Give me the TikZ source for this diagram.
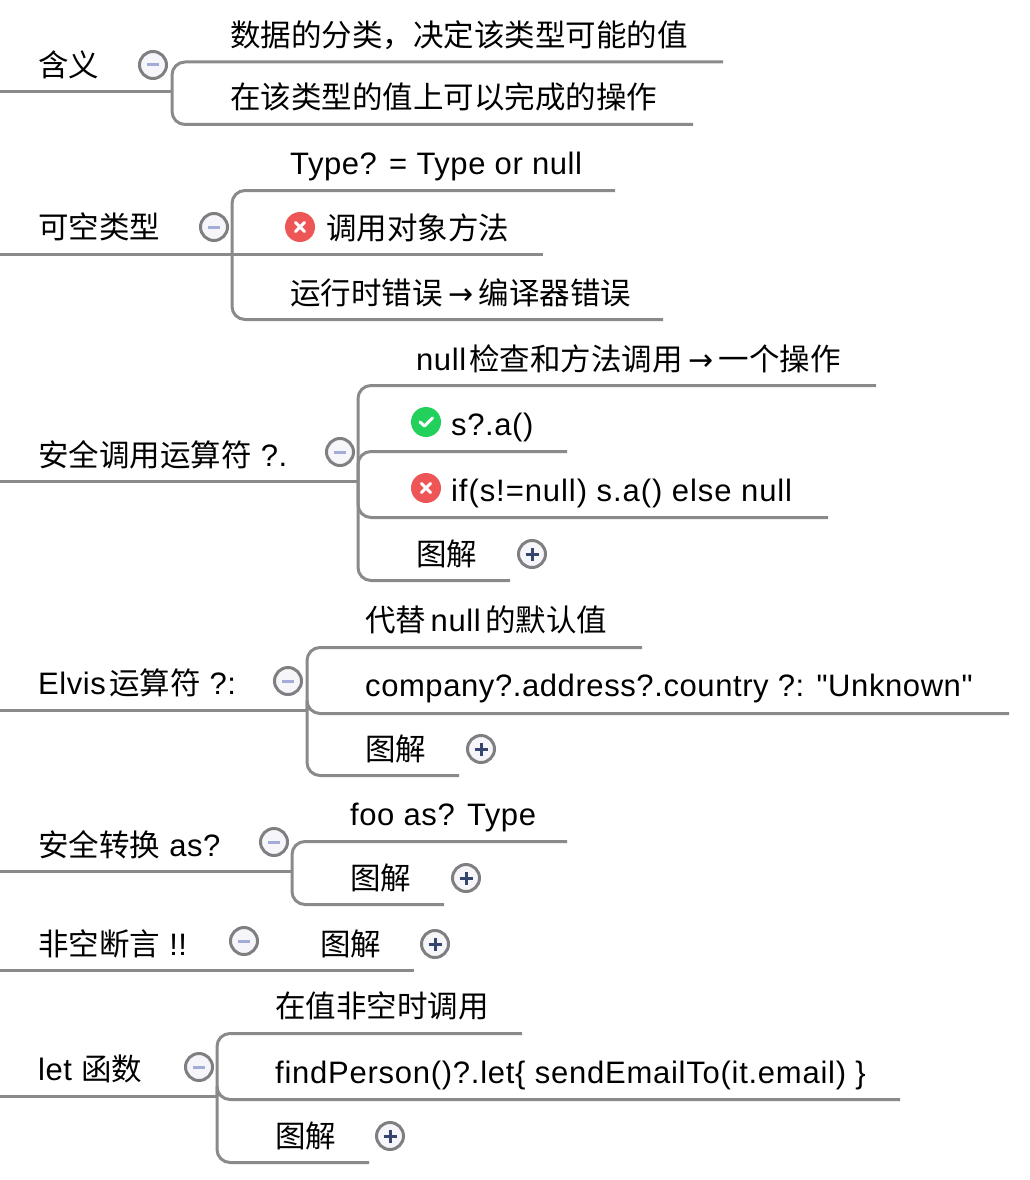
\documentclass[tikz,border=0pt]{standalone}
\usepackage{fontspec}
\setmainfont[LetterSpace=1.9,Ligatures=NoCommon]{Liberation Sans}
\newfontfamily\plainlatin[LetterSpace=1.9]{Liberation Sans}
\newfontfamily\cjk{Noto Sans CJK SC}
\newfontfamily\arrowfont{DejaVu Sans}
\newcommand{\zh}[1]{{\cjk\addfontfeature{LetterSpace=0} #1}}
\newcommand{\toarrow}{\makebox[36pt]{\fontsize{30}{30}\selectfont\arrowfont →}}
\definecolor{linegray}{HTML}{8A8A8A}
\definecolor{btnring}{HTML}{7F7F82}
\definecolor{btnfill}{HTML}{F6F6FA}
\definecolor{minusc}{HTML}{A3ACD6}
\definecolor{plusc}{HTML}{34456E}
\definecolor{okc}{HTML}{22D05C}
\definecolor{errc}{HTML}{EE5556}
\tikzset{
  lbl/.style={anchor=base west,inner sep=0pt,font=\fontsize{31}{36}\selectfont},
  lblz/.style={anchor=base west,inner sep=0pt,font=\fontsize{30.5}{36}\selectfont},
  branch/.style={draw=linegray,line width=3pt,rounded corners=13pt},
  btn/.style={circle,draw=btnring,line width=3pt,fill=btnfill,minimum size=27pt,inner sep=0pt},
  badge/.style={circle,minimum size=30pt,inner sep=0pt},
  minusbar/.style={draw=minusc,line width=3pt},
  plusbar/.style={draw=plusc,line width=3pt},
  whitemark/.style={draw=white,line width=3pt,line cap=round,line join=round}
}
\newcommand{\minusbtn}[3]{%
  \node[btn] (#1) at (#2,#3) {};
  \draw[minusbar] ([xshift=-6pt]#1.center) -- ([xshift=6pt]#1.center);}
\newcommand{\plusbtn}[3]{%
  \node[btn] (#1) at (#2,#3) {};
  \draw[plusbar] ([xshift=-6.5pt]#1.center) -- ([xshift=6.5pt]#1.center);
  \draw[plusbar] ([yshift=-6.5pt]#1.center) -- ([yshift=6.5pt]#1.center);}
\newcommand{\errbadge}[3]{%
  \node[badge,fill=errc] (#1) at (#2,#3) {};
  \draw[whitemark] ([shift={(-4.5pt,-4.5pt)}]#1.center) -- ([shift={(4.5pt,4.5pt)}]#1.center);
  \draw[whitemark] ([shift={(-4.5pt,4.5pt)}]#1.center) -- ([shift={(4.5pt,-4.5pt)}]#1.center);}
\newcommand{\okbadge}[3]{%
  \node[badge,fill=okc] (#1) at (#2,#3) {};
  \draw[whitemark] ([shift={(-6pt,0pt)}]#1.center) -- ([shift={(-1.5pt,-4pt)}]#1.center) -- ([shift={(6.5pt,4pt)}]#1.center);}
\begin{document}
\begin{tikzpicture}[x=1pt,y=-1pt]
\useasboundingbox (0,0) rectangle (1030,1180);
% ---- group 1
\coordinate (a0) at (0,91.5); \coordinate (a) at (172,91.5);
\coordinate (a1) at (723,62); \coordinate (a2) at (693,124.5);
\draw[branch] (a0) -- (a);
\draw[branch] (a1) -| (a) |- (a2);
\node[lblz] (ta) at (38,77) {\zh{含义}};
\node[lblz] (ta1) at (230,47) {\zh{数据的分类，决定该类型可能的值}};
\node[lblz] (ta2) at (230,109) {\zh{在该类型的值上可以完成的操作}};
\minusbtn{ba}{153}{65}
% ---- group 2
\coordinate (b0) at (0,254); \coordinate (b) at (232,254);
\coordinate (b1) at (615,190.5); \coordinate (b2) at (543,254); \coordinate (b3) at (663,319.5);
\draw[branch] (b0) -- (b2);
\draw[branch] (b1) -| (b) |- (b3);
\node[lblz] (tb) at (38,238) {\zh{可空类型}};
\node[lbl] (tb1) at (290,174) {Type? = Type or null};
\errbadge{eb}{300}{227}
\node[lblz] (tb2) at (326,239) {\zh{调用对象方法}};
\node[lblz] (tb3) at (290,304) {\zh{运行时错误}\toarrow\zh{编译器错误}};
\minusbtn{bb}{214}{227}
% ---- group 3
\coordinate (c0) at (0,481.5); \coordinate (c) at (358,481.5);
\coordinate (c1) at (876,385.5); \coordinate (c2) at (567,451.5); \coordinate (c3) at (828,517.5); \coordinate (c4) at (510,580.5);
\draw[branch] (c0) -- (c);
\draw[branch] (c1) -| (c) |- (c4);
\draw[branch] (c2) -| (c);
\draw[branch] (c3) -| (c);
\node[lblz] (tc) at (38,466) {\zh{安全调用运算符} {\fontsize{31}{36}\selectfont ?.}};
\node[lblz] (tc1) at (416,370) {{\fontsize{31}{36}\selectfont null}\hspace{3pt}\zh{检查和方法调用}\toarrow\zh{一个操作}};
\okbadge{oc}{426}{422}
\node[lbl] (tc2) at (451,435) {s?.a()};
\errbadge{ec}{426}{488}
\node[lbl] (tc3) at (451,501) {\addfontfeature{LetterSpace=3}if(s!=null) s.a() else null};
\node[lblz] (tc4) at (416,565) {\zh{图解}};
\plusbtn{pc}{532}{554}
\minusbtn{bc}{340}{452}
% ---- group 4
\coordinate (d0) at (0,710.5); \coordinate (d) at (307,710.5);
\coordinate (d1) at (642,647.5); \coordinate (d2) at (1009,713.5); \coordinate (d3) at (459,775.5);
\draw[branch] (d0) -- (d);
\draw[branch] (d1) -| (d) |- (d3);
\draw[branch] (d2) -| (d);
\node[lblz] (td) at (38,694) {{\fontsize{31}{36}\selectfont Elvis}\hspace{3pt}\zh{运算符} {\fontsize{31}{36}\selectfont ?:}};
\node[lblz] (td1) at (365,631) {\zh{代替}\hspace{4.5pt}{\fontsize{31}{36}\selectfont null}\hspace{4.5pt}\zh{的默认值}};
\node[lbl] (td2) at (365,696) {\plainlatin company?.address?.country ?: "Unknown"};
\node[lblz] (td3) at (365,760) {\zh{图解}};
\plusbtn{pd}{481}{749}
\minusbtn{bd}{288}{681}
% ---- group 5
\coordinate (e0) at (0,871.5); \coordinate (e) at (292,871.5);
\coordinate (e1) at (567,841.5); \coordinate (e2) at (444,904.5);
\draw[branch] (e0) -- (e);
\draw[branch] (e1) -| (e) |- (e2);
\node[lblz] (te) at (38,856) {\zh{安全转换} {\fontsize{31}{36}\selectfont as?}};
\node[lbl] (te1) at (350,825) {foo as? Type};
\node[lblz] (te2) at (350,889) {\zh{图解}};
\plusbtn{pe}{466}{878}
\minusbtn{be}{274}{842}
% ---- group 6
\coordinate (f0) at (0,970.5); \coordinate (f1) at (414,970.5);
\draw[branch] (f0) -- (f1);
\node[lblz] (tf) at (38,955) {\zh{非空断言} {\fontsize{31}{36}\selectfont !!}};
\node[lblz] (tf1) at (320,955) {\zh{图解}};
\plusbtn{pf}{435}{944}
\minusbtn{bf}{244}{941}
% ---- group 7
\coordinate (g0) at (0,1096.5); \coordinate (g) at (217,1096.5);
\coordinate (g1) at (522,1033.5); \coordinate (g2) at (900,1099.5); \coordinate (g3) at (369,1162.5);
\draw[branch] (g0) -- (g);
\draw[branch] (g1) -| (g) |- (g3);
\draw[branch] (g2) -| (g);
\node[lblz] (tg) at (38,1080) {{\fontsize{31}{36}\selectfont let} \zh{函数}};
\node[lblz] (tg1) at (275,1017) {\zh{在值非空时调用}};
\node[lbl] (tg2) at (275,1083) {\addfontfeature{LetterSpace=2.4}findPerson()?.let\{ sendEmailTo(it.email) \}};
\node[lblz] (tg3) at (275,1147) {\zh{图解}};
\plusbtn{pg}{390}{1136}
\minusbtn{bg}{199}{1067}
\end{tikzpicture}
\end{document}
